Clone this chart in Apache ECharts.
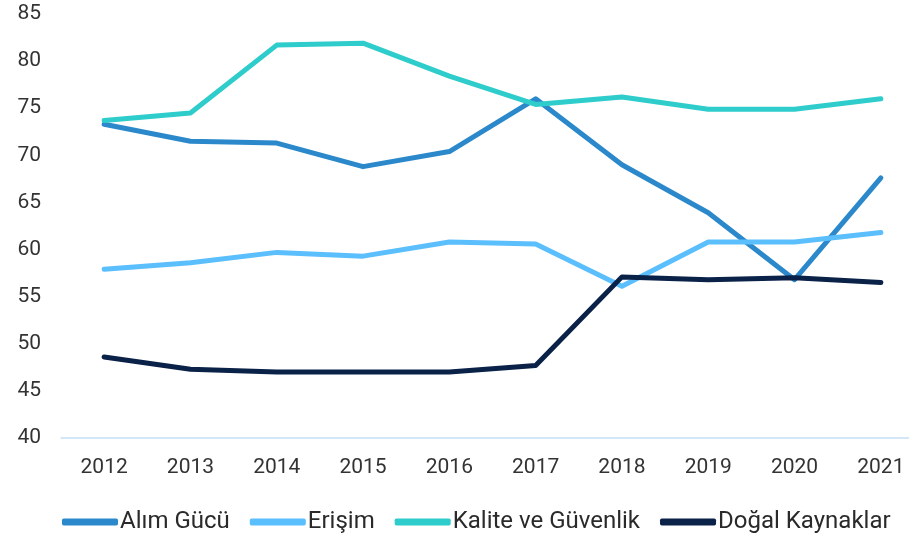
<!DOCTYPE html>
<html>
<head>
<meta charset="utf-8">
<script src="https://cdn.jsdelivr.net/npm/echarts@6/dist/echarts.min.js"></script>
<style>
  html, body { margin: 0; padding: 0; background: #fff; overflow: hidden; }
  #chart { width: 930px; height: 539px; }
</style>
</head>
<body>
<div id="chart"></div>
<script>
// yıllar
var years = ['2012', '2013', '2014', '2015', '2016', '2017', '2018', '2019', '2020', '2021'];

var alimGucu = [73.3, 71.5, 71.3, 68.8, 70.4, 76.0, 69.0, 63.9, 56.8, 67.6];
var erisim = [57.9, 58.6, 59.7, 59.3, 60.8, 60.6, 56.1, 60.8, 60.8, 61.8];
var kalite = [73.7, 74.5, 81.7, 81.9, 78.4, 75.4, 76.2, 74.9, 74.9, 76.0];
var dogal = [48.6, 47.3, 47.0, 47.0, 47.0, 47.7, 57.1, 56.8, 57.0, 56.5];

var chart = echarts.init(document.getElementById('chart'));

function line(name, data, color) {
    return {
        name: name,
        type: 'line',
        data: data,
        symbol: 'none',
        lineStyle: { width: 5, color: color, cap: 'round', join: 'round' },
        itemStyle: { color: color }
    };
}

chart.setOption({
    animation: false,
    textStyle: { fontFamily: 'Roboto' },
    grid: {
        left: 61,
        top: 14,
        width: 863,
        height: 424,
        containLabel: false
    },
    legend: {
        bottom: 0,
        left: 57,
        itemWidth: 56,
        itemHeight: 7,
        itemGap: 20,
        icon: 'roundRect',
        textStyle: { fontFamily: 'Roboto', fontSize: 24, color: '#2a2a2a', padding: [0, 0, 0, -3] },
        data: ['Alım Gücü', 'Erişim', 'Kalite ve Güvenlik', 'Doğal Kaynaklar']
    },
    xAxis: {
        type: 'category',
        data: years,
        boundaryGap: true,
        axisLine: { lineStyle: { color: '#C5E0F7', width: 1.5 } },
        axisTick: { show: false },
        axisLabel: { fontSize: 21, color: '#333', margin: 19 }
    },
    yAxis: {
        type: 'value',
        min: 40,
        max: 85,
        interval: 5,
        splitLine: { show: false },
        axisLine: { show: false },
        axisTick: { show: false },
        axisLabel: { fontSize: 21, color: '#333', margin: 20 }
    },
    series: [
        line('Alım Gücü', alimGucu, '#2B89CB'),
        line('Erişim', erisim, '#5BBEFD'),
        line('Kalite ve Güvenlik', kalite, '#2ECDCB'),
        line('Doğal Kaynaklar', dogal, '#0A2148')
    ]
});
</script>
</body>
</html>
